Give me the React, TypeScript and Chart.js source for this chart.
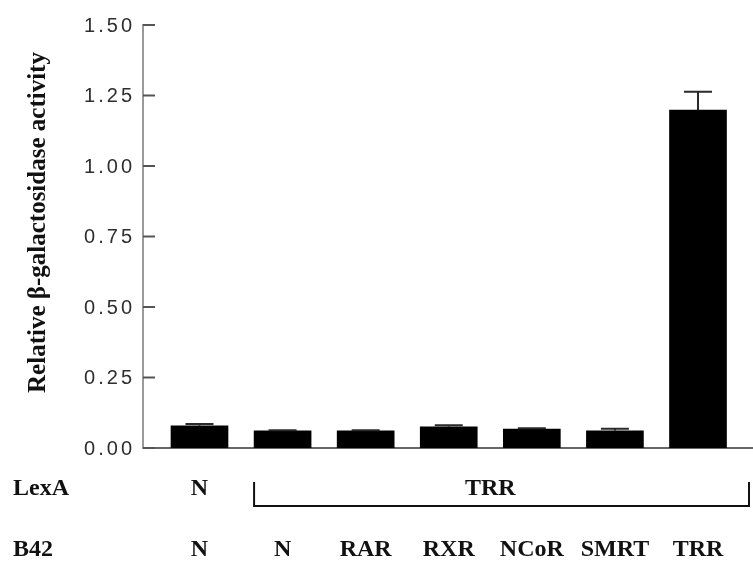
import React, { useEffect, useRef } from "react";
import { Chart, registerables } from "chart.js";

Chart.register(...registerables);

const b42Labels = ["N", "N", "RAR", "RXR", "NCoR", "SMRT", "TRR"];
const lexAGroups = [
  { label: "N", from: 0, to: 0, bracket: false },
  { label: "TRR", from: 1, to: 6, bracket: true },
];
const activity = [0.079, 0.061, 0.061, 0.075, 0.067, 0.061, 1.198];
const errors = [0.006, 0.002, 0.002, 0.006, 0.003, 0.007, 0.065];
const yTickValues = [0, 0.25, 0.5, 0.75, 1.0, 1.25, 1.5];
const yTitle = "Relative β-galactosidase activity";
const rowTitles = ["LexA", "B42"];

const BAR_W = 57;

const customDraw = {
  id: "customDraw",
  afterDatasetsDraw(chart: any) {
    const ctx = chart.ctx;
    const xs = chart.scales.x;
    const ys = chart.scales.y;
    const area = chart.chartArea;
    ctx.save();

    // error bars (upper only)
    ctx.strokeStyle = "#2a2a2a";
    ctx.lineWidth = 2;
    activity.forEach((v, i) => {
      const x = xs.getPixelForValue(i);
      const y0 = ys.getPixelForValue(v);
      const y1 = ys.getPixelForValue(v + errors[i]);
      ctx.beginPath();
      ctx.moveTo(x, y0);
      ctx.lineTo(x, y1);
      ctx.moveTo(x - 14, y1);
      ctx.lineTo(x + 14, y1);
      ctx.stroke();
    });

    // y ticks (inward) and labels
    ctx.strokeStyle = "#555";
    ctx.lineWidth = 2;
    ctx.fillStyle = "#2e2e2e";
    ctx.font = "20px 'Liberation Sans', Arial, sans-serif";
    (ctx as any).letterSpacing = "3px";
    ctx.textAlign = "right";
    ctx.textBaseline = "middle";
    yTickValues.forEach((t) => {
      const y = ys.getPixelForValue(t);
      ctx.beginPath();
      ctx.moveTo(area.left, y);
      ctx.lineTo(area.left + 12, y);
      ctx.stroke();
      ctx.fillText(t.toFixed(2), area.left - 8, y + 1);
    });
    (ctx as any).letterSpacing = "0px";

    // y title
    ctx.save();
    ctx.translate(39, (area.top + area.bottom) / 2 - 14);
    ctx.rotate(-Math.PI / 2);
    ctx.textAlign = "center";
    ctx.textBaseline = "middle";
    ctx.fillStyle = "#111";
    ctx.font = "bold 25px 'Liberation Serif', 'Times New Roman', serif";
    ctx.fillText(yTitle, 0, 0);
    ctx.restore();

    // bottom rows
    const row1Y = 489;
    const row2Y = 550;
    ctx.fillStyle = "#111";
    ctx.font = "bold 24px 'Liberation Serif', 'Times New Roman', serif";
    ctx.textBaseline = "middle";
    ctx.textAlign = "left";
    ctx.fillText(rowTitles[0], 13, row1Y);
    ctx.fillText(rowTitles[1], 13, row2Y);

    ctx.textAlign = "center";
    lexAGroups.forEach((g) => {
      const cx = (xs.getPixelForValue(g.from) + xs.getPixelForValue(g.to)) / 2;
      ctx.fillText(g.label, cx, row1Y);
      if (g.bracket) {
        const left = xs.getPixelForValue(g.from) - BAR_W / 2;
        const right = area.right - 4;
        ctx.strokeStyle = "#111";
        ctx.lineWidth = 2;
        ctx.beginPath();
        ctx.moveTo(left, 482);
        ctx.lineTo(left, 506);
        ctx.lineTo(right, 506);
        ctx.lineTo(right, 482);
        ctx.stroke();
      }
    });
    b42Labels.forEach((l, i) => {
      ctx.fillText(l, xs.getPixelForValue(i), row2Y);
    });

    ctx.restore();
  },
};

export default function App() {
  const ref = useRef<HTMLCanvasElement | null>(null);
  useEffect(() => {
    document.body.style.margin = "0";
    const canvas = ref.current!;
    const chart = new Chart(canvas, {
      type: "bar",
      data: {
        datasets: [
          {
            data: activity.map((v, i) => ({ x: i, y: v })),
            backgroundColor: "#000",
            borderWidth: 0,
            barThickness: BAR_W,
          },
        ],
      },
      options: {
        responsive: false,
        animation: false,
        layout: { padding: { left: 143, top: 25, right: 0, bottom: 116 } },
        plugins: { legend: { display: false }, tooltip: { enabled: false }, title: { display: false } },
        scales: {
          x: {
            type: "linear",
            offset: false,
            min: -0.68,
            max: 6.662,
            ticks: { display: false },
            grid: { display: false, drawTicks: false, offset: false },
            border: { display: true, color: "#666", width: 2 },
          },
          y: {
            min: 0,
            max: 1.5,
            ticks: { display: false, stepSize: 0.25 },
            grid: { display: false, drawTicks: false },
            border: { display: true, color: "#9a9a9a", width: 2 },
          },
        },
      },
      plugins: [customDraw],
    });
    return () => chart.destroy();
  }, []);
  return (
    <div style={{ width: 753, height: 564 }}>
      <canvas ref={ref} width={753} height={564} />
    </div>
  );
}
